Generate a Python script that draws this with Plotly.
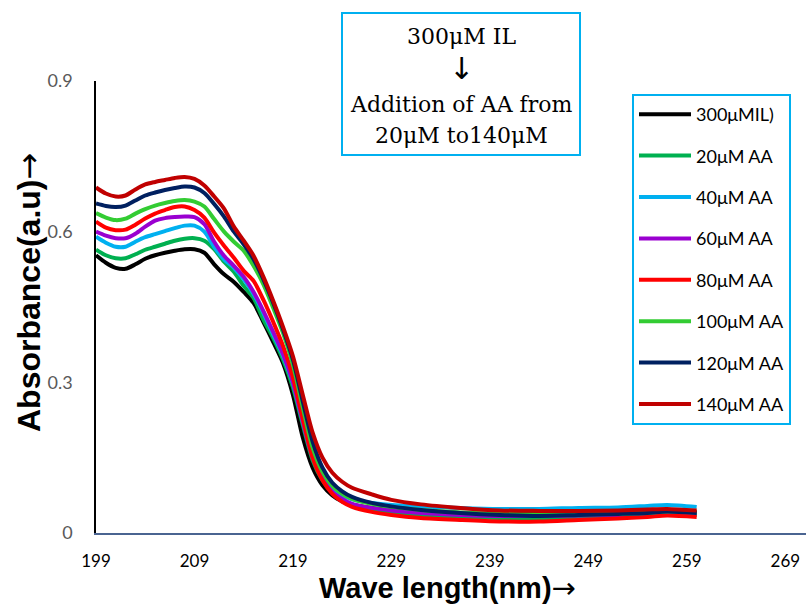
import plotly.graph_objects as go

# Wavelength grid (nm)
wavelength = [199, 200, 201, 202, 203, 204, 205, 206, 207, 208, 209, 210, 211, 212,
              213, 214, 215, 216, 217, 218, 219, 220, 221, 222, 223, 224, 225, 227,
              229, 232, 236, 240, 244, 248, 252, 255, 257, 260]

# Absorbance spectra (a.u.)
il_300 = [0.553, 0.538, 0.528, 0.526, 0.535, 0.546, 0.553, 0.558, 0.562, 0.565, 0.565, 0.558,
          0.535, 0.515, 0.500, 0.480, 0.458, 0.420, 0.380, 0.338, 0.275, 0.190, 0.130, 0.095,
          0.075, 0.063, 0.057, 0.050, 0.046, 0.043, 0.040, 0.038, 0.038, 0.038, 0.039, 0.040,
          0.043, 0.042]
aa_20 = [0.564, 0.553, 0.547, 0.547, 0.555, 0.564, 0.570, 0.576, 0.582, 0.586, 0.587, 0.582,
         0.565, 0.540, 0.520, 0.492, 0.468, 0.425, 0.388, 0.345, 0.290, 0.215, 0.145, 0.105,
         0.080, 0.066, 0.056, 0.047, 0.042, 0.036, 0.032, 0.030, 0.029, 0.030, 0.032, 0.034,
         0.038, 0.036]
aa_40 = [0.590, 0.578, 0.570, 0.570, 0.580, 0.589, 0.595, 0.601, 0.607, 0.612, 0.612, 0.600,
         0.570, 0.545, 0.528, 0.505, 0.476, 0.438, 0.395, 0.352, 0.298, 0.222, 0.152, 0.112,
         0.088, 0.075, 0.067, 0.060, 0.056, 0.053, 0.050, 0.048, 0.048, 0.050, 0.051, 0.054,
         0.056, 0.052]
aa_60 = [0.600, 0.592, 0.587, 0.587, 0.596, 0.610, 0.622, 0.627, 0.629, 0.630, 0.629, 0.615,
         0.580, 0.552, 0.532, 0.510, 0.480, 0.442, 0.400, 0.356, 0.300, 0.222, 0.150, 0.108,
         0.082, 0.068, 0.058, 0.050, 0.045, 0.040, 0.036, 0.034, 0.034, 0.035, 0.036, 0.038,
         0.041, 0.040]
aa_80 = [0.620, 0.608, 0.603, 0.604, 0.614, 0.626, 0.636, 0.643, 0.649, 0.650, 0.643, 0.628,
         0.598, 0.572, 0.548, 0.522, 0.502, 0.464, 0.420, 0.372, 0.310, 0.228, 0.150, 0.105,
         0.078, 0.062, 0.052, 0.042, 0.036, 0.030, 0.026, 0.023, 0.023, 0.026, 0.029, 0.032,
         0.035, 0.032]
aa_100 = [0.637, 0.628, 0.623, 0.626, 0.636, 0.645, 0.652, 0.657, 0.661, 0.663, 0.660, 0.650,
          0.625, 0.600, 0.580, 0.562, 0.532, 0.495, 0.448, 0.398, 0.335, 0.250, 0.170, 0.122,
          0.094, 0.078, 0.068, 0.058, 0.052, 0.046, 0.041, 0.038, 0.037, 0.037, 0.038, 0.040,
          0.043, 0.041]
aa_120 = [0.656, 0.651, 0.649, 0.652, 0.662, 0.672, 0.678, 0.683, 0.687, 0.690, 0.688, 0.677,
          0.655, 0.630, 0.600, 0.575, 0.545, 0.505, 0.458, 0.405, 0.345, 0.262, 0.182, 0.130,
          0.100, 0.083, 0.072, 0.060, 0.053, 0.046, 0.040, 0.036, 0.034, 0.036, 0.038, 0.040,
          0.043, 0.040]
aa_140 = [0.688, 0.676, 0.670, 0.672, 0.684, 0.694, 0.699, 0.703, 0.707, 0.709, 0.705, 0.692,
          0.670, 0.646, 0.610, 0.582, 0.552, 0.510, 0.462, 0.410, 0.352, 0.275, 0.200, 0.150,
          0.120, 0.102, 0.090, 0.077, 0.066, 0.057, 0.050, 0.045, 0.044, 0.044, 0.045, 0.047,
          0.048, 0.045]

series_names = ["300μMIL)", "20μM AA", "40μM AA", "60μM AA",
                "80μM AA", "100μM AA", "120μM AA", "140μM AA"]
series_values = [il_300, aa_20, aa_40, aa_60, aa_80, aa_100, aa_120, aa_140]
series_colors = ["#000000", "#00B050", "#00B0F0", "#9A00D0",
                 "#FF0000", "#33CC33", "#002060", "#C00000"]

x_ticks = [199, 209, 219, 229, 239, 249, 259, 269]
y_ticks = [0, 0.3, 0.6, 0.9]
y_tick_text = ["0", "0.3", "0.6", "0.9"]

box_lines = ["300μM IL", "↓", "Addition of AA from", "20μM to140μM"]

fig = go.Figure()
for name, vals, col in zip(series_names, series_values, series_colors):
    fig.add_trace(go.Scatter(
        x=wavelength, y=vals, name=name, mode="lines", legendgroup=name,
        line=dict(color=col, width=4, shape="spline", smoothing=0.8),
    ))

W, H = 808, 606
L, R, T, B = 96, 2, 81, 73
pw, ph = W - L - R, H - T - B


def px_x(p):
    return (p - L) / pw


def px_y(p):
    return (H - B - p) / ph


SANS = "Lato, Open Sans, sans-serif"
ARROW = "<span style='font-family:DejaVu Sans;font-weight:normal'>→</span>"

fig.update_layout(
    width=W, height=H,
    margin=dict(l=L, r=R, t=T, b=B),
    paper_bgcolor="white", plot_bgcolor="white",
    font=dict(family=SANS, size=17, color="#000000"),
    showlegend=True,
    legend=dict(
        x=px_x(632), y=px_y(94), xanchor="left", yanchor="top",
        bgcolor="white", bordercolor="#00B0F0", borderwidth=2,
        font=dict(family=SANS, size=18, color="#000000"),
        tracegroupgap=15, itemwidth=52,
    ),
    xaxis=dict(
        range=[199, 271.1], tickmode="array", tickvals=x_ticks,
        ticktext=[str(t) for t in x_ticks],
        showgrid=False, zeroline=False, showline=True,
        linecolor="#4A6491", linewidth=2, ticks="",
        ticklabelstandoff=12,
        tickfont=dict(family=SANS, size=17, color="#000000"),
    ),
    yaxis=dict(
        range=[0, 0.9], tickmode="array", tickvals=y_ticks, ticktext=y_tick_text,
        showgrid=False, zeroline=False, showline=True,
        linecolor="#000000", linewidth=1.5, ticks="",
        ticklabelstandoff=18,
        tickfont=dict(family=SANS, size=18, color="#595959"),
    ),
)

# Axis titles
fig.add_annotation(
    xref="paper", yref="paper", x=px_x(447), y=px_y(588),
    text="<b>Wave length(nm)</b>" + ARROW, showarrow=False,
    font=dict(family="Liberation Sans, Arial, sans-serif", size=29, color="#000000"),
    xanchor="center", yanchor="middle",
)
fig.add_annotation(
    xref="paper", yref="paper", x=px_x(29), y=px_y(293),
    text="<b>Absorbance(a.u)</b>" + ARROW, showarrow=False, textangle=-90,
    font=dict(family="Liberation Sans, Arial, sans-serif", size=32, color="#000000"),
    xanchor="center", yanchor="middle",
)

# Text box describing the titration
fig.add_shape(
    type="rect", xref="paper", yref="paper",
    x0=px_x(342), x1=px_x(580), y0=px_y(155), y1=px_y(13),
    line=dict(color="#00B0F0", width=2), fillcolor="white", layer="above",
)
for text, yc, fam, sz in zip(box_lines, [36, 69, 104, 135],
                             ["DejaVu Serif", "DejaVu Sans", "DejaVu Serif", "DejaVu Serif"],
                             [22, 30, 22, 22]):
    fig.add_annotation(
        xref="paper", yref="paper", x=px_x(461), y=px_y(yc),
        text=text, showarrow=False, xanchor="center", yanchor="middle",
        font=dict(family=fam, size=sz, color="#000000"),
    )

fig.write_html("out.html")
